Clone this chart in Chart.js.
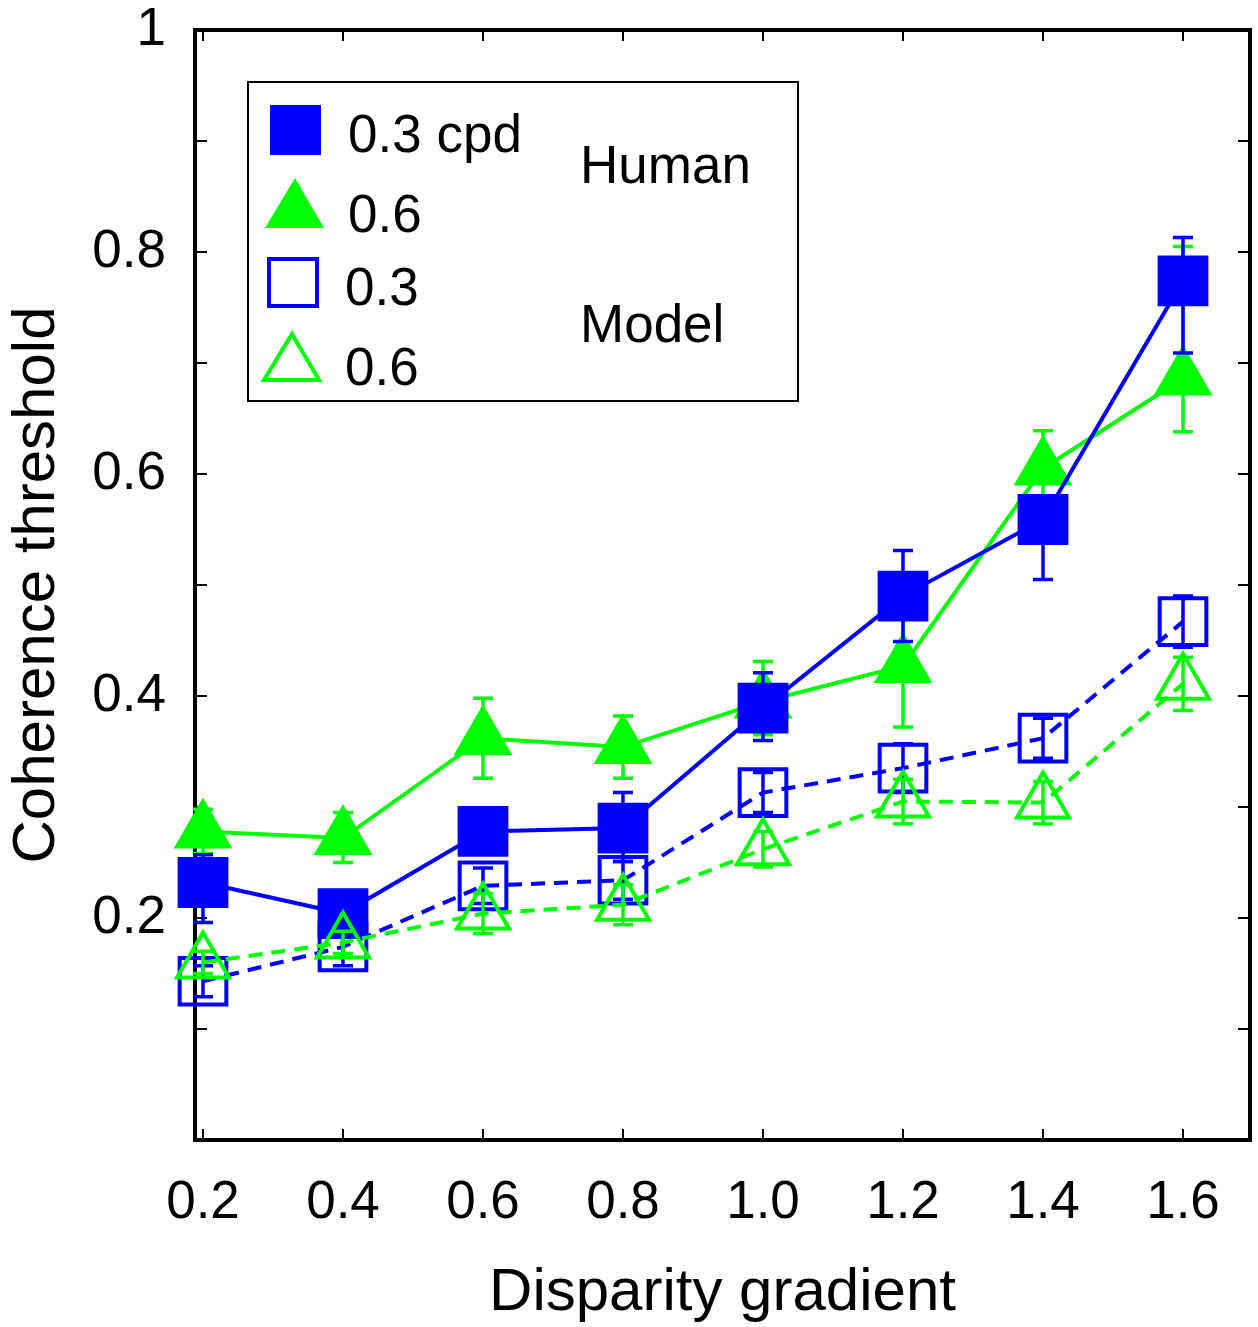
<!DOCTYPE html>
<html>
<head>
<meta charset="utf-8">
<script src="https://cdn.jsdelivr.net/npm/chart.js@4/dist/chart.umd.min.js"></script>
<style>
  html, body { margin: 0; padding: 0; background: #fff; }
  #wrap { width: 1258px; height: 1327px; position: relative; }
</style>
</head>
<body>
<div id="wrap"><canvas id="c" width="1258" height="1327"></canvas></div>
<script>
// ---------------- data ----------------
const xValues = [0.2, 0.4, 0.6, 0.8, 1.0, 1.2, 1.4, 1.6];

const human03 = [0.232, 0.204, 0.278, 0.281, 0.389, 0.490, 0.559, 0.774];
const human03ErrLow  = [0.036, 0.015, 0.020, 0.030, 0.029, 0.041, 0.054, 0.065];
const human03ErrHigh = [0.025, 0.015, 0.020, 0.032, 0.032, 0.041, 0.020, 0.039];

const human06 = [0.278, 0.272, 0.362, 0.354, 0.395, 0.427, 0.605, 0.686];
const human06ErrLow  = [0.020, 0.022, 0.036, 0.028, 0.030, 0.055, 0.034, 0.048];
const human06ErrHigh = [0.020, 0.023, 0.036, 0.028, 0.036, 0.055, 0.034, 0.119];

const model03 = [0.143, 0.174, 0.229, 0.234, 0.313, 0.335, 0.362, 0.467];
const model03Err = [0.014, 0.017, 0.016, 0.017, 0.018, 0.022, 0.018, 0.023];

const model06 = [0.160, 0.178, 0.204, 0.212, 0.262, 0.305, 0.304, 0.411];
const model06Err = [0.010, 0.010, 0.018, 0.018, 0.016, 0.020, 0.019, 0.024];

const xTickValues = [0.2, 0.4, 0.6, 0.8, 1.0, 1.2, 1.4, 1.6];
const xTickLabels = ['0.2', '0.4', '0.6', '0.8', '1.0', '1.2', '1.4', '1.6'];
const yTickValues = [0, 0.1, 0.2, 0.3, 0.4, 0.5, 0.6, 0.7, 0.8, 0.9, 1.0];
const yTickLabels = ['', '', '0.2', '', '0.4', '', '0.6', '', '0.8', '', '1'];

const legendLabels = ['0.3 cpd', '0.6', '0.3', '0.6'];
const legendGroups = ['Human', 'Model'];
const xTitle = 'Disparity gradient';
const yTitle = 'Coherence threshold';

// ---------------- styling ----------------
const BLUE = '#0000FF';
const GREEN = '#00FF00';
const FONT = '"Liberation Sans", Arial, Helvetica, sans-serif';

const toPts = ys => xValues.map((x, i) => ({ x: x, y: ys[i] }));

// order: higher = drawn earlier (underneath)
const datasets = [
  { label: legendLabels[0], data: toPts(human03), errLow: human03ErrLow, errHigh: human03ErrHigh,
    borderColor: BLUE, backgroundColor: BLUE, borderWidth: 4, clip: false,
    pointStyle: 'rect', pointRadius: 34.5, pointBackgroundColor: BLUE, pointBorderColor: BLUE, pointBorderWidth: 2,
    order: 3 },
  { label: legendLabels[1], data: toPts(human06), errLow: human06ErrLow, errHigh: human06ErrHigh,
    borderColor: GREEN, backgroundColor: GREEN, borderWidth: 4, clip: false,
    pointStyle: 'triangle', pointRadius: 32, pointBackgroundColor: GREEN, pointBorderColor: GREEN, pointBorderWidth: 2,
    order: 4 },
  { label: legendLabels[2], data: toPts(model03), errLow: model03Err, errHigh: model03Err,
    borderColor: BLUE, backgroundColor: 'rgba(0,0,0,0)', borderWidth: 4, borderDash: [14, 9], clip: false,
    pointStyle: 'rect', pointRadius: 33, pointBackgroundColor: 'rgba(0,0,0,0)', pointBorderColor: BLUE, pointBorderWidth: 4,
    order: 2 },
  { label: legendLabels[3], data: toPts(model06), errLow: model06Err, errHigh: model06Err,
    borderColor: GREEN, backgroundColor: 'rgba(0,0,0,0)', borderWidth: 4, borderDash: [14, 9], clip: false,
    pointStyle: 'triangle', pointRadius: 30, pointBackgroundColor: 'rgba(0,0,0,0)', pointBorderColor: GREEN, pointBorderWidth: 4,
    order: 1 }
];

const errorBarPlugin = {
  id: 'errorBars',
  afterDatasetDraw(chart, args) {
    const ds = chart.data.datasets[args.index];
    const ys = chart.scales.y;
    const ctx = chart.ctx;
    ctx.save();
    ctx.strokeStyle = ds.borderColor;
    ctx.lineWidth = 3.5;
    ctx.setLineDash([]);
    args.meta.data.forEach((pt, i) => {
      const v = ds.data[i].y;
      const yLo = ys.getPixelForValue(v - ds.errLow[i]);
      const yHi = ys.getPixelForValue(v + ds.errHigh[i]);
      const x = pt.x;
      ctx.beginPath();
      ctx.moveTo(x, yLo); ctx.lineTo(x, yHi);
      ctx.moveTo(x - 10, yLo); ctx.lineTo(x + 10, yLo);
      ctx.moveTo(x - 10, yHi); ctx.lineTo(x + 10, yHi);
      ctx.stroke();
    });
    ctx.restore();
  }
};

const frameLegendPlugin = {
  id: 'frameLegend',
  beforeDatasetsDraw(chart) {
    const ctx = chart.ctx;
    const a = chart.chartArea;
    const xs = chart.scales.x, ys = chart.scales.y;
    ctx.save();
    ctx.setLineDash([]);
    ctx.strokeStyle = '#000';
    ctx.lineWidth = 2;
    ctx.beginPath();
    yTickValues.forEach(v => {
      const y = ys.getPixelForValue(v);
      ctx.moveTo(a.left, y); ctx.lineTo(a.left + 12, y);
      ctx.moveTo(a.right, y); ctx.lineTo(a.right - 12, y);
    });
    xTickValues.forEach(v => {
      const x = xs.getPixelForValue(v);
      ctx.moveTo(x, a.bottom); ctx.lineTo(x, a.bottom - 11);
      ctx.moveTo(x, a.top); ctx.lineTo(x, a.top + 11);
    });
    ctx.stroke();
    ctx.lineWidth = 4;
    ctx.strokeRect(a.left, a.top, a.right - a.left, a.bottom - a.top);
    ctx.restore();
  },
  afterDatasetsDraw(chart) {
    const ctx = chart.ctx;
    ctx.save();
    ctx.setLineDash([]);
    // legend box
    ctx.fillStyle = '#fff';
    ctx.fillRect(248, 82, 550, 319);
    ctx.lineWidth = 2;
    ctx.strokeStyle = '#000';
    ctx.strokeRect(248, 82, 550, 319);

    // legend markers
    ctx.fillStyle = BLUE;
    ctx.fillRect(270, 105, 51, 50);
    ctx.fillStyle = GREEN;
    ctx.beginPath();
    ctx.moveTo(295, 178); ctx.lineTo(324, 228); ctx.lineTo(265, 228); ctx.closePath();
    ctx.fill();
    ctx.strokeStyle = BLUE; ctx.lineWidth = 4;
    ctx.strokeRect(269, 259, 48, 47);
    ctx.strokeStyle = GREEN; ctx.lineWidth = 4;
    ctx.beginPath();
    ctx.moveTo(292, 334); ctx.lineTo(319, 380); ctx.lineTo(264, 380); ctx.closePath();
    ctx.stroke();

    // legend text
    ctx.fillStyle = '#000';
    ctx.font = '53px ' + FONT;
    ctx.textAlign = 'left';
    ctx.textBaseline = 'alphabetic';
    ctx.fillText(legendLabels[0], 348, 152);
    ctx.fillText(legendLabels[1], 348, 232);
    ctx.fillText(legendLabels[2], 345, 305);
    ctx.fillText(legendLabels[3], 345, 385);
    ctx.fillText(legendGroups[0], 580, 183);
    ctx.fillText(legendGroups[1], 580, 342);
    ctx.restore();
  }
};

function zeroPad(s) { s.paddingTop = 0; s.paddingBottom = 0; s.paddingLeft = 0; s.paddingRight = 0; }

new Chart(document.getElementById('c'), {
  type: 'line',
  data: { datasets: datasets },
  options: {
    responsive: false,
    animation: false,
    events: [],
    layout: { autoPadding: false, padding: { top: 30, right: 8, bottom: 0, left: 0 } },
    plugins: { legend: { display: false }, tooltip: { enabled: false } },
    elements: { line: { tension: 0 } },
    scales: {
      x: {
        type: 'linear',
        min: 0.18857, max: 1.6957,
        grid: { display: false, drawTicks: false },
        border: { display: false },
        afterBuildTicks: s => { s.ticks = xTickValues.map(v => ({ value: v })); },
        afterFit: s => { s.height = 187; zeroPad(s); },
        ticks: {
          autoSkip: false, maxRotation: 0, padding: 37,
          color: '#000',
          font: { family: FONT, size: 53, lineHeight: 1 },
          callback: (v, i) => xTickLabels[i]
        },
        title: {
          display: true, text: xTitle, color: '#000',
          font: { family: FONT, size: 60, lineHeight: 1 },
          padding: { top: 0, bottom: 4 }
        }
      },
      y: {
        type: 'linear',
        min: 0, max: 1,
        grid: { display: false, drawTicks: false },
        border: { display: false },
        afterBuildTicks: s => { s.ticks = yTickValues.map(v => ({ value: v })); },
        afterFit: s => { s.width = 195; zeroPad(s); },
        ticks: {
          autoSkip: false, padding: 29,
          color: '#000',
          font: { family: FONT, size: 53, lineHeight: 1 },
          callback: (v, i) => yTickLabels[i]
        },
        title: {
          display: true, text: yTitle, color: '#000',
          font: { family: FONT, size: 60, lineHeight: 1 },
          padding: { top: 7, bottom: 0 }
        }
      }
    }
  },
  plugins: [errorBarPlugin, frameLegendPlugin]
});
</script>
</body>
</html>
